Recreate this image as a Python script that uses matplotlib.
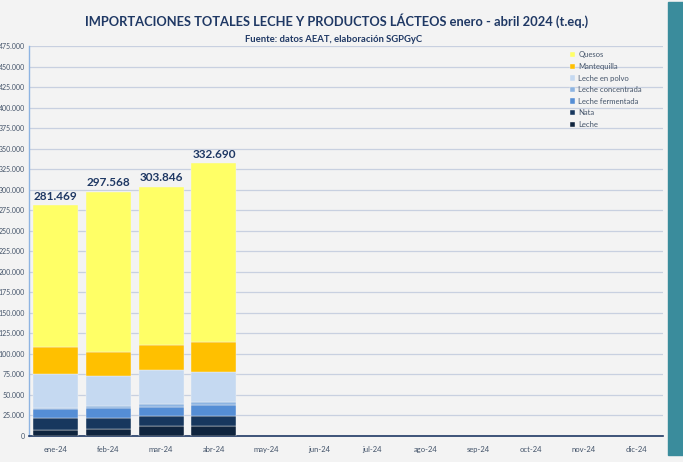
import matplotlib
matplotlib.use("Agg")
import matplotlib.pyplot as plt
from matplotlib.patches import Rectangle
from matplotlib.ticker import FuncFormatter, MultipleLocator

months = ["ene-24", "feb-24", "mar-24", "abr-24", "may-24", "jun-24",
          "jul-24", "ago-24", "sep-24", "oct-24", "nov-24", "dic-24"]

# values in tonnes equivalent (only Jan-Apr available)
leche = [7800, 8600, 11800, 11800]
nata = [14200, 13400, 12700, 13100]
leche_fermentada = [10300, 11500, 11400, 13100]
leche_concentrada = [2400, 2900, 2900, 3700]
leche_en_polvo = [40900, 37100, 42100, 35900]
mantequilla = [32400, 28200, 29400, 36800]
quesos = [173469, 195868, 193546, 218290]
totals = [281469, 297568, 303846, 332690]

series_names = ["Leche", "Nata", "Leche fermentada", "Leche concentrada",
                "Leche en polvo", "Mantequilla", "Quesos"]
series_vals = [leche, nata, leche_fermentada, leche_concentrada,
               leche_en_polvo, mantequilla, quesos]
colors = ["#0F243E", "#17375E", "#558ED5", "#8DB4E2", "#C5D9F1", "#FFC000", "#FFFF66"]

plt.rcParams['font.family'] = ['Lato', 'DejaVu Sans']

fig = plt.figure(figsize=(6.83, 4.62), dpi=100)
fig.patch.set_facecolor("#f3f3f3")
fig.patches.append(Rectangle((668/683, 7/462), 1 - 668/683, 453/462,
                             transform=fig.transFigure, color="#3a8c9c", zorder=0))

ax = fig.add_axes([29/683, 26/462, (663-29)/683, (436-46)/462])
ax.set_facecolor("none")

x = list(range(len(months)))
n = len(leche)
bottom = [0] * n
handles = []
for name, vals, c in zip(series_names, series_vals, colors):
    h = ax.bar(x[:n], vals, 0.85, bottom=bottom, color=c, label=name,
               edgecolor="#f3f3f3", linewidth=0.3, zorder=3)
    handles.append(h)
    bottom = [b + v for b, v in zip(bottom, vals)]

for i, t in enumerate(totals):
    ax.text(x[i], bottom[i] + 4000, f"{t:,}".replace(",", "."), ha="center", va="bottom",
            fontsize=8.5, fontweight="bold", color="#1F3864", zorder=4)

ax.set_xlim(-0.5, len(months) - 0.5)
ax.set_ylim(0, 475000)
ax.yaxis.set_major_locator(MultipleLocator(25000))
ax.yaxis.set_major_formatter(FuncFormatter(lambda v, p: f"{int(v):,}".replace(",", ".")))
ax.set_xticks(x)
ax.set_xticklabels(months)
ax.tick_params(axis="x", length=0, labelsize=5.5, labelcolor="#44546A", pad=7)
ax.tick_params(axis="y", length=0, labelsize=5.0, labelcolor="#44546A", pad=3)
ax.grid(axis="y", color="#C8D0E0", linewidth=0.9, zorder=0)
for s in ["top", "right"]:
    ax.spines[s].set_visible(False)
ax.spines["left"].set_color("#8DB4E2")
ax.spines["left"].set_linewidth(1.0)
ax.spines["bottom"].set_color("#1F3864")
ax.spines["bottom"].set_linewidth(1.2)

leg = ax.legend(handles=handles[::-1], loc="upper left", bbox_to_anchor=(0.845, 1.0),
                frameon=False, fontsize=5.5, handlelength=0.7, handleheight=0.7,
                labelspacing=0.6, handletextpad=0.4, borderaxespad=0.3)
for t in leg.get_texts():
    t.set_color("#44546A")

fig.text(0.493, 0.956, "IMPORTACIONES TOTALES LECHE Y PRODUCTOS LÁCTEOS enero - abril 2024 (t.eq.)",
         ha="center", va="center", fontsize=9.3, fontweight="bold", color="#1F3864")
fig.text(0.488, 0.914, "Fuente: datos AEAT, elaboración SGPGyC",
         ha="center", va="center", fontsize=6.8, fontweight="bold", color="#1F3864")

fig.savefig("out.png", dpi=100, facecolor=fig.get_facecolor())
